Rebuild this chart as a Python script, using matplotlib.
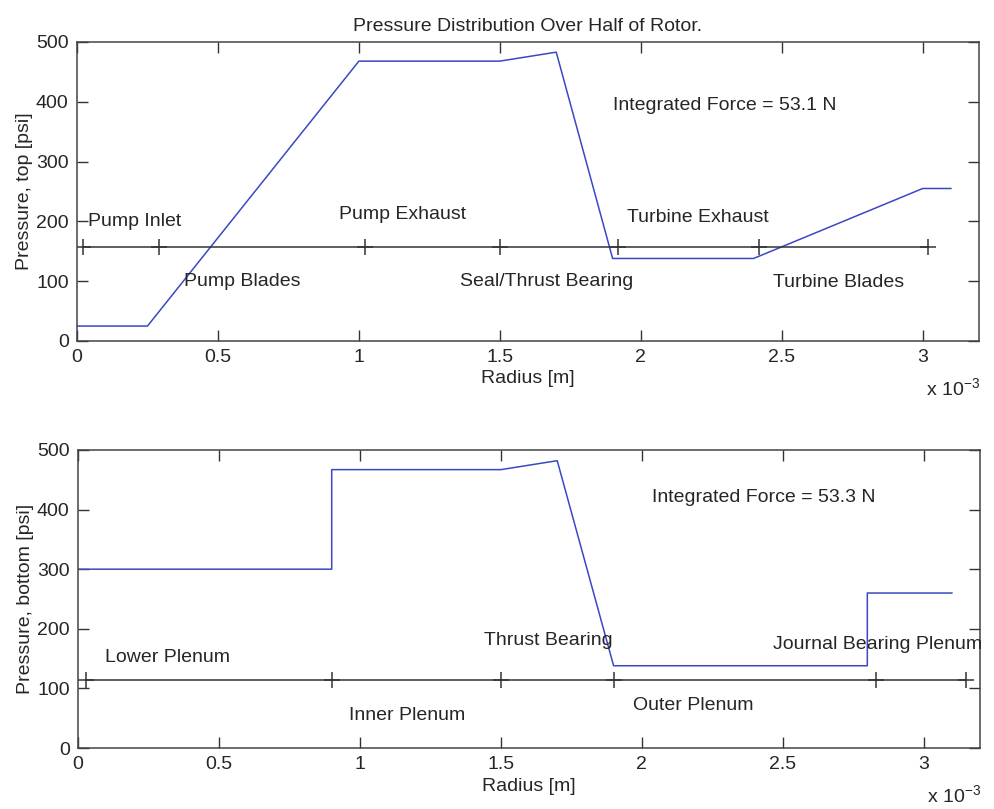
import matplotlib
matplotlib.use("Agg")
import matplotlib.pyplot as plt
from matplotlib.ticker import FuncFormatter

plt.rcParams['font.family'] = ['Liberation Sans', 'DejaVu Sans']
plt.rcParams['mathtext.fontset'] = 'custom'
plt.rcParams['mathtext.rm'] = 'Liberation Sans'
plt.rcParams['mathtext.it'] = 'Liberation Sans'

# radius in units of 1e-3 m, pressure in psi
r_top = [0, 0.25, 1.0, 1.5, 1.7, 1.9, 2.4, 3.0, 3.1]
p_top = [25, 25, 468, 468, 483, 138, 138, 255, 255]

r_bot = [0, 0.9, 0.9, 1.5, 1.7, 1.9, 2.8, 2.8, 3.1]
p_bot = [300, 300, 467, 467, 482, 138, 138, 260, 260]

# region boundaries drawn as a marked line
r_sep_top = [0.02, 0.29, 1.02, 1.5, 1.92, 2.42, 3.02]
p_sep_top = 157
r_sep_bot = [0.03, 0.9, 1.5, 1.9, 2.83, 3.15]
p_sep_bot = 114

labels_top = [("Pump Inlet", 0.04, 200), ("Pump Exhaust", 0.93, 211),
              ("Turbine Exhaust", 1.95, 206), ("Pump Blades", 0.38, 99),
              ("Seal/Thrust Bearing", 1.36, 99), ("Turbine Blades", 2.47, 97),
              ("Integrated Force = 53.1 N", 1.90, 393)]
labels_bot = [("Lower Plenum", 0.095, 152), ("Inner Plenum", 0.96, 55),
              ("Thrust Bearing", 1.44, 180), ("Outer Plenum", 1.97, 72),
              ("Journal Bearing Plenum", 2.465, 173),
              ("Integrated Force = 53.3 N", 2.035, 420)]

text_col = '#262626'
line_col = '#3a48c4'


def setup(ax, ylabel):
    ax.set_xlim(0, 3.2)
    ax.set_ylim(0, 500)
    ax.set_xticks([0, 0.5, 1, 1.5, 2, 2.5, 3])
    ax.set_yticks([0, 100, 200, 300, 400, 500])
    ax.xaxis.set_major_formatter(FuncFormatter(lambda v, pos: '%g' % v))
    ax.tick_params(direction='in', length=8, width=1, top=True, right=True,
                   labelsize=14, colors='#333333', labelcolor=text_col, pad=6)
    for s in ax.spines.values():
        s.set_color('#444444')
        s.set_linewidth(1.1)
    ax.set_xlabel("Radius [m]", fontsize=14, color=text_col, labelpad=3)
    ax.set_ylabel(ylabel, fontsize=14, color=text_col, labelpad=2)
    ax.text(0.941, -0.157, r'x 10$^{-3}$', transform=ax.transAxes,
            fontsize=14, color=text_col, va='center', ha='left')


fig = plt.figure(figsize=(9.95, 8.09), dpi=100)
ax1 = fig.add_axes([0.0774, 0.5785, 0.9066, 0.3696])
ax2 = fig.add_axes([0.0784, 0.0754, 0.9066, 0.3684])

ax1.plot(r_top, p_top, color=line_col, linewidth=1.1)
ax1.plot(r_sep_top, [p_sep_top] * len(r_sep_top), '+-', color='#333333',
         linewidth=1.1, markersize=11, markeredgewidth=1.1)
for t, x, y in labels_top:
    ax1.text(x, y, t, fontsize=14, color=text_col, va='center', ha='left')
setup(ax1, "Pressure, top [psi]")
ax1.set_title("Pressure Distribution Over Half of Rotor.", fontsize=14,
              color=text_col, pad=8)

ax2.plot(r_bot, p_bot, color=line_col, linewidth=1.1)
ax2.plot(r_sep_bot, [p_sep_bot] * len(r_sep_bot), '+-', color='#333333',
         linewidth=1.1, markersize=11, markeredgewidth=1.1)
for t, x, y in labels_bot:
    ax2.text(x, y, t, fontsize=14, color=text_col, va='center', ha='left')
setup(ax2, "Pressure, bottom [psi]")

fig.savefig("out.png", dpi=100)
